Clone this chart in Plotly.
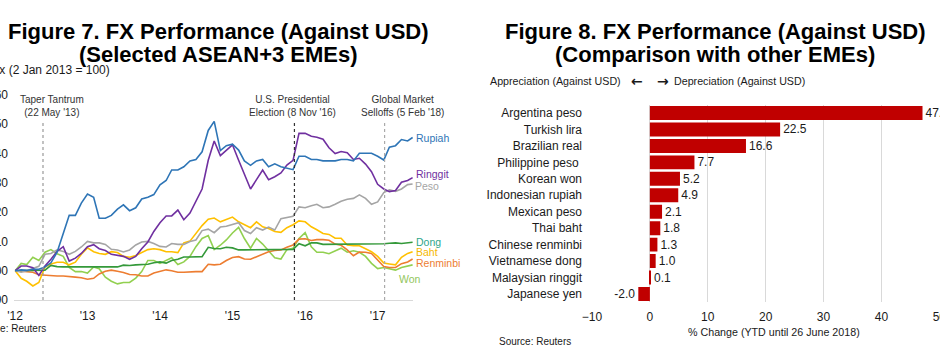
import plotly.graph_objects as go
import pandas as pd

W, H = 940, 356
FONT = "Liberation Sans, Arial, sans-serif"

# ---------------- Left chart data (Index, 2 Jan 2013 = 100) ----------------
dates = (["2013-01-02"]
         + [d.strftime("%Y-%m-%d") for d in pd.date_range("2013-02-01", "2018-06-01", freq="MS")]
         + ["2018-06-26"])

rupiah = [
    100.0, 100.3, 100.1, 100.5, 100.5, 101.3, 102.7, 106.3, 112.7, 118.9, 118.9, 123.1,
    126.2, 125.1, 117.9, 117.9, 118.9, 121.0, 122.5, 120.5, 121.5, 124.5, 125.1, 126.0,
    129.3, 130.8, 134.4, 134.4, 135.5, 137.5, 138.0, 140.6, 147.9, 151.0, 141.0, 142.7,
    143.2, 141.2, 137.5, 136.0, 137.5, 138.0, 135.5, 136.5, 135.5, 135.0, 134.5, 139.1,
    139.1, 138.0, 138.0, 137.5, 137.5, 137.5, 138.0, 138.0, 137.5, 140.1, 140.1, 140.1,
    139.1, 137.8, 142.2, 142.7, 144.8, 144.3, 145.5]
ringgit = [
    100.0, 101.6, 101.6, 101.0, 98.4, 101.6, 103.9, 106.6, 108.2, 103.3, 104.3, 105.9,
    108.2, 108.9, 107.5, 106.9, 105.6, 105.2, 104.9, 103.9, 104.9, 107.5, 109.8, 113.4,
    116.4, 118.7, 118.7, 120.7, 117.4, 119.7, 123.9, 127.9, 137.7, 144.3, 139.3, 141.0,
    143.0, 137.7, 132.8, 127.9, 131.1, 134.4, 131.1, 132.1, 133.4, 136.1, 137.7, 146.9,
    146.9, 145.9, 145.6, 144.9, 142.0, 140.0, 140.7, 140.3, 138.0, 138.4, 136.4, 133.8,
    129.5, 127.9, 127.0, 127.4, 130.2, 130.8, 131.8]
peso = [
    100.0, 99.5, 100.0, 100.7, 101.5, 105.6, 105.9, 107.1, 106.6, 105.6, 106.6, 108.1,
    110.0, 109.5, 109.5, 109.0, 107.3, 107.1, 106.4, 107.1, 108.8, 109.8, 110.0, 109.3,
    108.3, 108.1, 109.3, 109.0, 109.0, 110.0, 110.5, 113.7, 114.2, 113.0, 114.9, 115.2,
    115.7, 116.4, 113.7, 112.7, 114.7, 113.9, 114.9, 113.9, 117.8, 118.3, 118.6, 121.8,
    121.5, 122.2, 122.7, 121.5, 121.8, 122.7, 123.7, 124.4, 124.7, 125.9, 124.7, 122.7,
    123.5, 126.7, 127.6, 127.1, 127.9, 129.4, 129.6]
baht = [
    100.0, 97.4, 96.4, 94.8, 96.0, 101.3, 102.3, 102.9, 102.9, 102.0, 102.9, 105.6,
    107.8, 106.5, 105.9, 105.6, 106.5, 106.2, 104.9, 104.6, 105.2, 106.2, 107.2, 107.5,
    107.2, 106.5, 106.5, 106.2, 109.5, 110.1, 112.7, 115.4, 117.6, 118.0, 116.7, 117.6,
    118.3, 116.7, 115.7, 114.7, 116.7, 115.0, 114.4, 113.4, 113.1, 114.7, 115.7, 117.0,
    116.7, 115.0, 114.0, 112.7, 112.4, 111.1, 111.1, 108.8, 108.5, 108.5, 107.5, 106.5,
    104.9, 102.6, 102.3, 102.0, 104.6, 105.9, 106.5]
renminbi = [
    100.0, 99.8, 99.8, 99.5, 98.6, 98.4, 98.4, 98.2, 98.2, 97.9, 97.8, 97.6,
    97.1, 97.4, 98.9, 99.8, 100.2, 99.8, 99.4, 98.7, 98.6, 98.2, 98.2, 99.2,
    99.7, 100.3, 100.0, 99.5, 99.5, 99.7, 99.7, 99.7, 102.2, 102.0, 102.2, 103.5,
    104.5, 104.8, 104.0, 103.9, 104.8, 105.5, 106.5, 106.9, 107.1, 108.0, 108.8, 110.8,
    110.9, 110.3, 110.6, 110.6, 110.4, 109.1, 108.7, 107.1, 105.1, 106.4, 106.3, 105.9,
    103.5, 101.4, 101.1, 101.1, 102.4, 103.0, 104.0]
dong = [
    100.0, 100.0, 100.0, 100.0, 100.1, 100.2, 101.8, 101.4, 101.3, 101.3, 101.3, 101.3,
    101.3, 101.3, 101.3, 101.3, 101.3, 101.3, 101.9, 101.8, 102.0, 102.0, 102.2, 102.7,
    103.0, 102.6, 103.5, 103.9, 104.7, 104.7, 104.7, 104.8, 108.0, 107.6, 107.5, 108.0,
    107.8, 107.1, 107.1, 107.1, 107.3, 107.1, 107.1, 107.1, 107.1, 107.1, 107.3, 109.2,
    108.5, 109.5, 109.5, 109.0, 109.0, 109.0, 109.1, 109.1, 109.1, 109.1, 109.1, 109.0,
    109.0, 109.2, 109.4, 109.5, 109.3, 109.6, 109.7]
won = [
    100.0, 102.5, 102.1, 104.6, 103.5, 106.3, 107.2, 105.8, 104.9, 101.1, 99.7, 99.7,
    99.2, 101.3, 100.7, 97.8, 96.4, 95.5, 96.0, 96.0, 97.5, 99.7, 103.5, 103.5,
    102.5, 103.5, 104.4, 102.1, 103.0, 104.9, 108.2, 111.0, 112.0, 107.2, 108.7, 110.5,
    112.9, 114.8, 111.0, 107.7, 111.0, 109.1, 106.8, 104.4, 104.0, 107.2, 107.7, 111.0,
    113.0, 108.2, 106.3, 106.3, 105.8, 106.8, 107.7, 106.3, 106.8, 106.3, 104.9, 102.5,
    100.7, 101.1, 100.7, 100.2, 101.1, 101.5, 102.0]

x_tick_vals = ["2013-01-01", "2014-01-01", "2015-01-01", "2016-01-01", "2017-01-01", "2018-01-01"]
x_tick_text = ["'12", "'13", "'14", "'15", "'16", "'17"]
y_tick_vals = [90, 100, 110, 120, 130, 140, 150, 160]

events = ["2013-05-22", "2016-11-08", "2018-02-05"]
event_text = ["Taper Tantrum<br>(22 May '13)",
              "U.S. Presidential<br>Election (8 Nov '16)",
              "Global Market<br>Selloffs (5 Feb '18)"]

# ---------------- Right chart data ----------------
countries = ["Argentina peso", "Turkish lira", "Brazilian real", "Philippine peso ",
             "Korean won", "Indonesian rupiah", "Mexican peso", "Thai baht",
             "Chinese renminbi", "Vietnamese dong", "Malaysian ringgit", "Japanese yen"]
pct_change = [47.1, 22.5, 16.6, 7.7, 5.2, 4.9, 2.1, 1.8, 1.3, 1.0, 0.1, -2.0]
bar_ticks = [-10, 0, 10, 20, 30, 40, 50]


def fx(p):
    return p / W


def fy(p):
    return 1 - p / H


fig = go.Figure()

series = [
    ("Won", won, "#92D050", "#92C65C", 397, 279),
    ("Renminbi", renminbi, "#ED7D31", "#ED7D31", 414, 263),
    ("Baht", baht, "#FFC000", "#F5B800", 414, 252),
    ("Dong", dong, "#34993A", "#2EA58A", 414, 242),
    ("Peso", peso, "#A5A5A5", "#A5A5A5", 413, 186),
    ("Ringgit", ringgit, "#7030A0", "#7030A0", 414, 174),
    ("Rupiah", rupiah, "#2E75B6", "#2E75B6", 414, 138),
]
for name, vals, col, lab_col, lx, ly in series:
    fig.add_trace(go.Scatter(x=dates, y=vals, mode="lines", name=name,
                             line=dict(color=col, width=1.6),
                             xaxis="x", yaxis="y", showlegend=False))
    fig.add_annotation(text=name, xref="paper", yref="paper", x=fx(lx), y=fy(ly),
                       xanchor="left", yanchor="middle", showarrow=False,
                       font=dict(family=FONT, size=10.5, color=lab_col))

fig.add_trace(go.Bar(x=pct_change, y=countries, orientation="h",
                     marker=dict(color="#C00000", line=dict(width=0)),
                     texttemplate="%{x:.1f}", textposition="outside",
                     textfont=dict(family=FONT, size=12, color="#1a1a1a"),
                     constraintext="none", cliponaxis=False,
                     xaxis="x2", yaxis="y2", showlegend=False))

# event lines
line_cols = ["#999999", "#333333", "#AAAAAA"]
for d, c in zip(events, line_cols):
    fig.add_shape(type="line", xref="x", yref="y", x0=d, x1=d, y0=90, y1=151,
                  line=dict(color=c, width=1.2, dash="dot"))
ev_px = [52, 292, 402]
for t, px_ in zip(event_text, ev_px):
    fig.add_annotation(text=t, xref="paper", yref="paper", x=fx(px_), y=fy(105.5),
                       xanchor="center", yanchor="middle", showarrow=False,
                       font=dict(family=FONT, size=10, color="#333333"))

# titles
title_font = dict(family=FONT, size=22, color="#000000")
for txt, cx, cy in [("<b>Figure 7. FX Performance (Against USD)</b>", 218, 31),
                    ("<b>(Selected ASEAN+3 EMEs)</b>", 218, 55),
                    ("<b>Figure 8. FX Performance (Against USD)</b>", 715, 31),
                    ("<b>(Comparison with other EMEs)</b>", 715, 55)]:
    fig.add_annotation(text=txt, xref="paper", yref="paper", x=fx(cx), y=fy(cy),
                       xanchor="center", yanchor="middle", showarrow=False, font=title_font)

small = dict(family=FONT, size=12, color="#1a1a1a")
fig.add_annotation(text="Index (2 Jan 2013 = 100)", xref="paper", yref="paper",
                   x=fx(112), y=fy(70), xanchor="right", yanchor="middle",
                   showarrow=False, font=small)
fig.add_annotation(text="Source: Reuters", xref="paper", yref="paper",
                   x=fx(48), y=fy(328), xanchor="right", yanchor="middle",
                   showarrow=False, font=dict(family=FONT, size=10, color="#1a1a1a"))
fig.add_annotation(text="Source: Reuters", xref="paper", yref="paper",
                   x=fx(497), y=fy(341), xanchor="left", yanchor="middle",
                   showarrow=False, font=dict(family=FONT, size=10, color="#1a1a1a"))
fig.add_annotation(text="% Change (YTD until 26 June 2018)", xref="paper", yref="paper",
                   x=fx(774), y=fy(332), xanchor="center", yanchor="middle",
                   showarrow=False, font=dict(family=FONT, size=10.7, color="#1a1a1a"))
fig.add_annotation(text="Appreciation (Against USD)", xref="paper", yref="paper",
                   x=fx(488), y=fy(81.5), xanchor="left", yanchor="middle",
                   showarrow=False, font=dict(family=FONT, size=10.7, color="#1a1a1a"))
arrow_font = dict(family="DejaVu Sans, sans-serif", size=14, color="#1a1a1a")
fig.add_annotation(text="<b>\u2190</b>", xref="paper", yref="paper",
                   x=fx(637), y=fy(81.5), xanchor="center", yanchor="middle",
                   showarrow=False, font=arrow_font)
fig.add_annotation(text="<b>\u2192</b>", xref="paper", yref="paper",
                   x=fx(663), y=fy(81.5), xanchor="center", yanchor="middle",
                   showarrow=False, font=arrow_font)
fig.add_annotation(text="Depreciation (Against USD)", xref="paper", yref="paper",
                   x=fx(672), y=fy(81.5), xanchor="left", yanchor="middle",
                   showarrow=False, font=dict(family=FONT, size=10.7, color="#1a1a1a"))

fig.update_layout(
    width=W, height=H, margin=dict(l=0, r=0, t=0, b=0, autoexpand=False),
    paper_bgcolor="white", plot_bgcolor="white",
    font=dict(family=FONT, size=12, color="#1a1a1a"),
    bargap=0.15,
    xaxis=dict(type="date", domain=[fx(14), fx(413)], range=["2012-12-27", "2018-06-28"],
               tickvals=x_tick_vals, ticktext=x_tick_text, ticks="",
               showgrid=False, zeroline=False, showline=True, linecolor="#D9D9D9",
               linewidth=1, tickfont=dict(family=FONT, size=12, color="#1a1a1a"),
               ticklabelstandoff=5, anchor="y", automargin=False),
    yaxis=dict(domain=[fy(300), fy(95)], range=[90, 160], tickvals=y_tick_vals,
               ticks="", showgrid=False, zeroline=False, showline=False,
               tickfont=dict(family=FONT, size=12, color="#1a1a1a"),
               ticklabelstandoff=5, anchor="x", automargin=False),
    xaxis2=dict(domain=[fx(592), fx(939.3)], range=[-10, 50], tickvals=bar_ticks,
                ticks="", showgrid=True, gridcolor="#D9D9D9", gridwidth=1,
                zeroline=False, showline=False, ticklabeloverflow="allow",
                tickfont=dict(family=FONT, size=12, color="#1a1a1a"), anchor="y2",
                ticklabelstandoff=6, automargin=False),
    yaxis2=dict(domain=[fy(302.2), fy(104.8)], type="category",
                categoryorder="array", categoryarray=countries, range=[11.5, -0.5],
                ticks="", showgrid=False, zeroline=False, showline=False,
                tickfont=dict(family=FONT, size=12, color="#1a1a1a"),
                ticklabelstandoff=9, anchor="x2", automargin=False),
)

fig.write_html("out.html", config={"displayModeBar": False},
               post_script="document.body.style.margin='0';")
